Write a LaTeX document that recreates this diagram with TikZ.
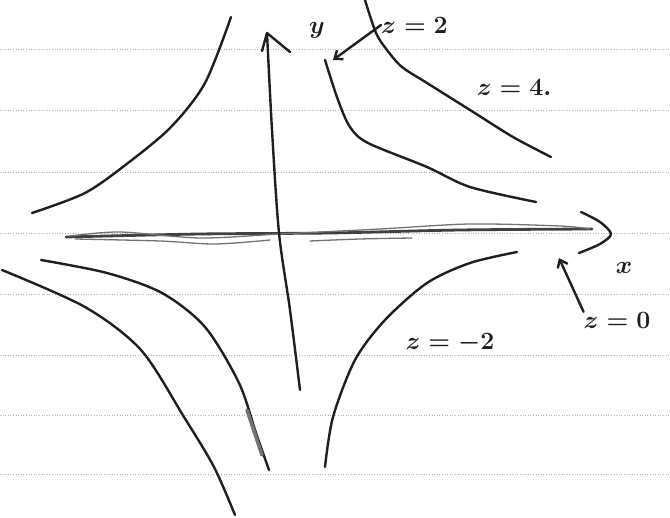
\documentclass[tikz,border=0pt]{standalone}
\usetikzlibrary{arrows.meta}
\begin{document}
\begin{tikzpicture}[x=1pt,y=-1pt,
  ink/.style={line width=2.4pt, draw=black!88, line cap=round, line join=round},
  faint/.style={line width=1.3pt, draw=black!55, line cap=round},
  rule/.style={draw=black!30, line width=0.6pt, dotted},
  axisink/.style={line width=2.8pt, draw=black!75, line cap=round},
  lbl/.style={font=\fontsize{28}{32}\selectfont\boldmath, text=black!88, inner sep=0pt},
  pointer/.style={ink, -{Straight Barb[length=7pt,width=11pt]}}]
\useasboundingbox (0,0) rectangle (670,518);
\fill[white] (0,0) rectangle (670,518);
% ruled paper
\foreach \yy in {49,110,172,233,294,355,415,474} \draw[rule] (0,\yy) -- (670,\yy);
% x axis (several strokes)
\coordinate (xs) at (66,237);
\coordinate (xe) at (592,229);
\draw[axisink] plot[smooth] coordinates {(66,237) (200,234) (330,233) (460,230) (592,229)};
\draw[faint] plot[smooth] coordinates {(70,236) (120,232) (200,238) (280,234) (380,229) (470,224) (560,226) (590,229)};
\draw[faint] plot[smooth] coordinates {(75,239) (160,241) (215,244) (270,240)};
\draw[faint] plot[smooth] coordinates {(310,241) (360,239) (412,238)};
\draw[ink] plot[smooth] coordinates {(581,212) (600,222) (611,234) (600,244) (579,253)};
% y axis
\coordinate (ys) at (300,390);
\coordinate (ye) at (267,33);
\draw[ink] plot[smooth] coordinates {(300,390) (290,310) (279,233) (272,130) (267,33)};
\draw[ink] (262,51) -- (267,33) -- (290,52);
% level curves
\draw[ink] plot[smooth] coordinates {(325,60) (338,100) (350,127) (368,143) (427,167) (470,187) (536,202)};
\draw[ink] plot[smooth] coordinates {(365,0) (376,33) (387,50) (402,67) (427,83) (470,110) (513,137) (551,157)};
\draw[ink] plot[smooth] coordinates {(231,17) (205,83) (171,127) (128,163) (85,193) (32,213)};
\draw[ink] plot[smooth] coordinates {(517,252) (470,263) (427,283) (385,320) (355,360) (333,417) (325,467)};
\draw[ink] plot[smooth] coordinates {(41,260) (107,273) (162,293) (205,327) (239,383) (256,433) (269,470)};
\draw[line width=3.5pt, draw=black!55, line cap=round] (247,410) -- (262,455);
\draw[ink] plot[smooth] coordinates {(2,270) (85,307) (141,350) (184,417) (214,467) (235,515)};
% labels
\node[lbl] (ylab) at (317,30) {$y$};
\node[lbl] (xlab) at (624,268) {$x$};
\node[lbl, anchor=west] (z2) at (381,25) {$z=2$};
\node[lbl] (z4) at (514,87) {$z=4.$};
\node[lbl] (zm2) at (450,343) {$z=-2$};
\node[lbl] (z0) at (617,320) {$z=0$};
\coordinate (z2tip) at (333,60);
\coordinate (z0tip) at (559,258);
\draw[pointer] (z2.west) -- (z2tip);
\draw[pointer] (z0.north west) -- (z0tip);
\end{tikzpicture}
\end{document}
